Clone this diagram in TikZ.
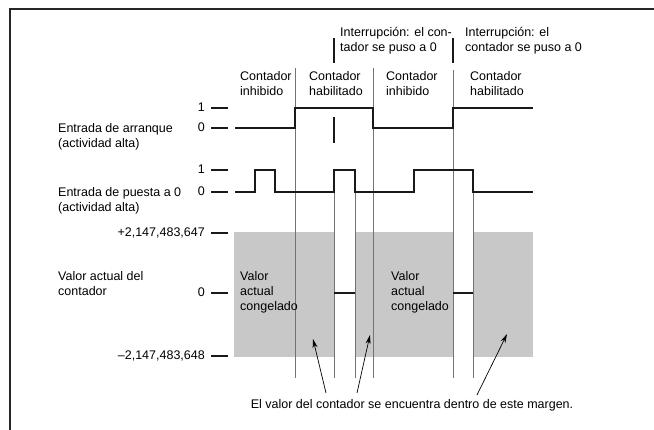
\documentclass[tikz,border=0pt]{standalone}
\usepackage{fontspec}
\setmainfont{Liberation Sans}
\usepackage{xcolor}
\usepackage{tikz}
\usetikzlibrary{arrows.meta,positioning,calc}

\definecolor{cntgray}{RGB}{200,200,200}
\definecolor{phasegray}{RGB}{115,115,115}
\tikzset{
  frame/.style={line width=1.4pt, black!85},
  sig/.style={line width=1.1pt, black!90},
  phase/.style={line width=0.7pt, phasegray},
  lbl/.style={anchor=base west, align=left, inner sep=0pt},
  val/.style={anchor=base east, inner sep=0pt},
  pointer/.style={line width=0.7pt, -{Stealth[length=9pt, width=5pt]}},
}

\begin{document}
\begin{tikzpicture}[x=1pt, y=-1pt, font=\fontsize{12.5}{15}\selectfont]
    \useasboundingbox (0,0) rectangle (654,430);
    \draw[frame] (654,9) -- (10,9) -- (10,430);

    % Counter range
    \fill[cntgray] (234,232) rectangle (334,357);
    \fill[cntgray] (355,232) rectangle (453,357);
    \fill[cntgray] (473,232) rectangle (533,357);

    % Phase lines
    \draw[phase] (295,68) -- (295,378);
    \draw[phase] (373,68) -- (373,378);
    \draw[phase] (453,70) -- (453,378);
    \draw[phase] (334,170) -- (334,378);
    \draw[phase] (355,192) -- (355,378);
    \draw[phase] (473,192) -- (473,378);

    % Interruption marks
    \draw[sig] (334,38) -- (334,63);
    \draw[sig] (453,38) -- (453,63);
    \draw[sig] (334,117) -- (334,143);

    % Level ticks
    \foreach \y/\t in {108/1, 128/0, 170/1, 192/0, 233/{+2,147,483,647}, 293/0, 356/{--2,147,483,648}} {
        \node[val] at (205,\y+4) {\t};
        \draw[sig] (211,\y) -- (228,\y);
    }

    % Start input
    \draw[sig] (235,128) -- (295,128) -- (295,108) -- (373,108) -- (373,128)
        -- (453,128) -- (453,108) -- (533,108);
    % Reset input
    \draw[sig] (235,192) -- (255,192) -- (255,170) -- (275,170) -- (275,192)
        -- (334,192) -- (334,170) -- (355,170) -- (355,192) -- (414,192)
        -- (414,170) -- (473,170) -- (473,192) -- (533,192);
    % Counter value
    \draw[sig] (334,293) -- (355,293);
    \draw[sig] (453,293) -- (473,293);

    % Labels (base = last line)
    \node[lbl] (start) at (58,148) {Entrada de arranque\\(actividad alta)};
    \node[lbl] (reset) at (58,212) {Entrada de puesta a 0\\(actividad alta)};
    \node[lbl] (cv) at (58,296) {Valor actual del\\contador};

    \node[lbl] (ph1) at (240,96) {Contador\\inhibido};
    \node[lbl] (ph2) at (309,96) {Contador\\habilitado};
    \node[lbl] (ph3) at (386,96) {Contador\\inhibido};
    \node[lbl] (ph4) at (470,96) {Contador\\habilitado};

    \node[lbl] (int1) at (340,52) {Interrupción: el con-\\tador se puso a 0};
    \node[lbl] (int2) at (465,52) {Interrupción: el\\contador se puso a 0};

    \node[lbl] (frz1) at (240,311) {Valor\\actual\\congelado};
    \node[lbl] (frz2) at (391,311) {Valor\\actual\\congelado};

    % Range arrows
    \node[anchor=base, inner sep=0pt] (margin) at (412,409)
        {El valor del contador se encuentra dentro de este margen.};
    \coordinate (s1) at (326,393);
    \coordinate (s2) at (357,393);
    \coordinate (s3) at (477,395);
    \coordinate (t1) at (313,339);
    \coordinate (t2) at (370,335);
    \coordinate (t3) at (507,334);
    \draw[pointer] (s1) -- (t1);
    \draw[pointer] (s2) -- (t2);
    \draw[pointer] (s3) -- (t3);
\end{tikzpicture}
\end{document}
